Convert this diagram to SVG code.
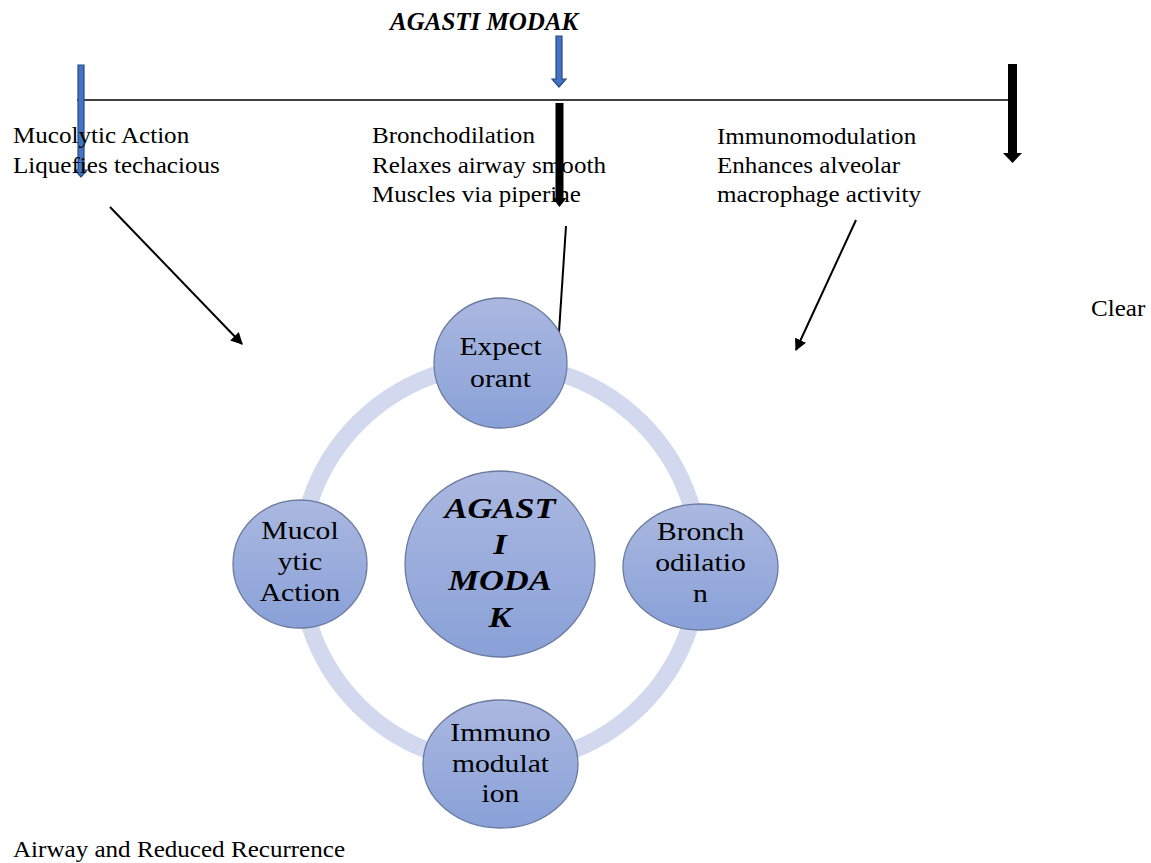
<svg xmlns="http://www.w3.org/2000/svg" width="1151" height="863" viewBox="0 0 1151 863">
<style>
.t{font-family:"Liberation Serif","Times New Roman",serif;font-size:23.5px;fill:#000}
.n{font-family:"Liberation Serif","Times New Roman",serif;font-size:26px;fill:#000;text-anchor:middle}
.c{font-family:"Liberation Serif","Times New Roman",serif;font-size:30px;font-weight:bold;font-style:italic;fill:#000;text-anchor:middle}
.title{font-family:"Liberation Serif","Times New Roman",serif;font-size:25px;font-weight:bold;font-style:italic;fill:#000}
.node{fill:url(#g);stroke:#6a7aa0;stroke-width:1.3}
.thin{stroke:#000;stroke-width:2;fill:none}
.blue{fill:#4472c4;stroke:#2b4a80;stroke-width:1.2}
.blk{fill:#000}
</style>
<defs>
<linearGradient id="g" x1="0" y1="0" x2="0" y2="1">
<stop offset="0" stop-color="#abb8e0"/>
<stop offset="1" stop-color="#89a1d8"/>
</linearGradient>
<marker id="ah" viewBox="0 0 10 10" refX="9" refY="5" markerWidth="6" markerHeight="6" orient="auto" markerUnits="strokeWidth">
<path d="M0,0 L10,5 L0,10 z" fill="#000"/>
</marker>
</defs>
<rect width="1151" height="863" fill="#fff"/>

<g id="title">
<text class="title" x="390" y="30">AGASTI MODAK</text>
</g>

<g id="ring">
<circle cx="500" cy="564" r="200" fill="none" stroke="#d2d8ee" stroke-width="17"/>
</g>

<g id="connectors">
<line x1="77" y1="100" x2="1010" y2="100" stroke="#000" stroke-width="1.3"/>
<path class="blue" d="M78,65 H84 V170 H87 L81,177 L75,170 H78 Z"/>
<path class="blue" d="M556,36 H562 V79 H566 L559,87 L552,79 H556 Z"/>
<path class="blk" d="M555.5,103 H563.5 V198 H566.5 L559.5,207 L552.5,198 H555.5 Z"/>
<path class="blk" d="M1008,64 H1017 V153 H1022 L1012.5,163 L1003,153 H1008 Z"/>
<line class="thin" x1="110" y1="207" x2="242" y2="344" marker-end="url(#ah)"/>
<line class="thin" x1="566" y1="226" x2="559" y2="332"/>
<line class="thin" x1="856" y1="220" x2="796" y2="350" marker-end="url(#ah)"/>
</g>

<g id="label-mucolytic">
<text class="t" transform="translate(13,0) scale(1.067,1)" x="0" y="143">Mucolytic Action</text>
<text class="t" transform="translate(13,0) scale(1.067,1)" x="0" y="173">Liquefies techacious</text>
</g>
<g id="label-broncho">
<text class="t" transform="translate(372,0) scale(1.067,1)" x="0" y="143">Bronchodilation</text>
<text class="t" transform="translate(372,0) scale(1.067,1)" x="0" y="173">Relaxes airway smooth</text>
<text class="t" transform="translate(372,0) scale(1.067,1)" x="0" y="202">Muscles via piperine</text>
</g>
<g id="label-immuno">
<text class="t" transform="translate(717,0) scale(1.067,1)" x="0" y="144">Immunomodulation</text>
<text class="t" transform="translate(717,0) scale(1.067,1)" x="0" y="173">Enhances alveolar</text>
<text class="t" transform="translate(717,0) scale(1.067,1)" x="0" y="202">macrophage activity</text>
</g>
<g id="label-clear">
<text class="t" transform="translate(1091,0) scale(1.067,1)" x="0" y="316">Clear</text>
</g>
<g id="label-airway">
<text class="t" transform="translate(13,0) scale(1.067,1)" x="0" y="857">Airway and Reduced Recurrence</text>
</g>

<g id="node-expectorant">
<ellipse class="node" cx="500.5" cy="363" rx="66.5" ry="65"/>
<text class="n" transform="translate(500.5,0) scale(1.14,1)" x="0" y="355">Expect</text>
<text class="n" transform="translate(500.5,0) scale(1.14,1)" x="0" y="387">orant</text>
</g>

<g id="node-mucolytic">
<ellipse class="node" cx="300" cy="564" rx="67" ry="64"/>
<text class="n" transform="translate(300,0) scale(1.14,1)" x="0" y="539">Mucol</text>
<text class="n" transform="translate(300,0) scale(1.14,1)" x="0" y="570">ytic</text>
<text class="n" transform="translate(300,0) scale(1.14,1)" x="0" y="601">Action</text>
</g>

<g id="node-bronchodilation">
<ellipse class="node" cx="700.5" cy="567" rx="77.5" ry="63"/>
<text class="n" transform="translate(700.5,0) scale(1.14,1)" x="0" y="540">Bronch</text>
<text class="n" transform="translate(700.5,0) scale(1.14,1)" x="0" y="571">odilatio</text>
<text class="n" transform="translate(700.5,0) scale(1.14,1)" x="0" y="602">n</text>
</g>

<g id="node-immunomodulation">
<ellipse class="node" cx="500.5" cy="764" rx="77.5" ry="64"/>
<text class="n" transform="translate(500.5,0) scale(1.14,1)" x="0" y="741">Immuno</text>
<text class="n" transform="translate(500.5,0) scale(1.14,1)" x="0" y="772">modulat</text>
<text class="n" transform="translate(500.5,0) scale(1.14,1)" x="0" y="802">ion</text>
</g>

<g id="node-center">
<ellipse class="node" cx="500" cy="564" rx="95" ry="93"/>
<text class="c" transform="translate(500,0) scale(1.15,1)" x="0" y="518">AGAST</text>
<text class="c" transform="translate(500,0) scale(1.15,1)" x="0" y="554">I</text>
<text class="c" transform="translate(500,0) scale(1.15,1)" x="0" y="590">MODA</text>
<text class="c" transform="translate(500,0) scale(1.15,1)" x="0" y="627">K</text>
</g>
</svg>
